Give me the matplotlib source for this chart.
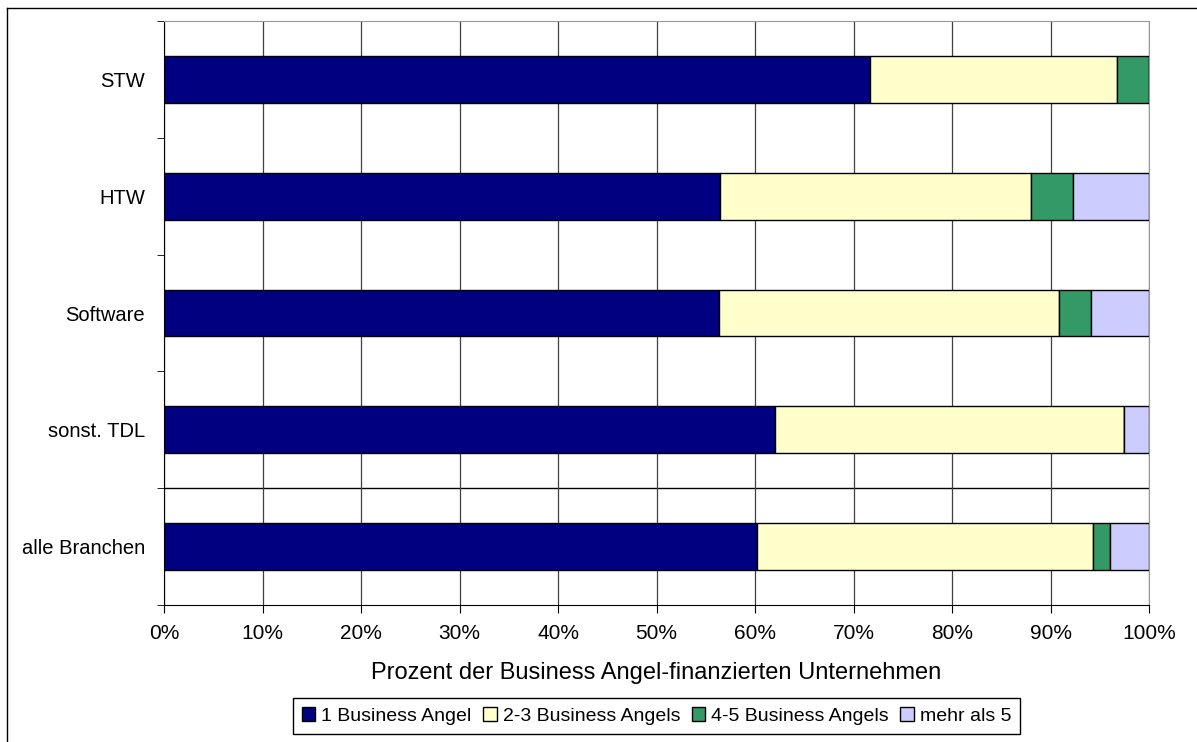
import numpy as np
import matplotlib
matplotlib.use("Agg")
import matplotlib.pyplot as plt
from matplotlib.lines import Line2D

plt.rcParams["font.family"] = ["Liberation Sans", "DejaVu Sans"]

# sectors, top to bottom
branchen = ["STW", "HTW", "Software", "sonst. TDL", "alle Branchen"]
serien = ["1 Business Angel", "2-3 Business Angels", "4-5 Business Angels", "mehr als 5"]
# shares in % per sector
ein_ba = [71.7, 56.4, 56.3, 62.0, 60.2]
zwei_drei = [25.0, 31.6, 34.6, 35.4, 34.1]
vier_fuenf = [3.3, 4.3, 3.2, 0.0, 1.7]
mehr_fuenf = [0.0, 7.7, 5.9, 2.6, 4.0]
farben = ["#000080", "#FFFFCC", "#339966", "#CCCCFF"]

fig = plt.figure(figsize=(11.97, 7.42), dpi=100)
ax = fig.add_axes([0.137, 0.1846, 0.823, 0.7871])

y = np.arange(len(branchen))[::-1]
left = np.zeros(len(branchen))
for name, vals, c in zip(serien, [ein_ba, zwei_drei, vier_fuenf, mehr_fuenf], farben):
    vals = np.array(vals)
    ax.barh(y, vals, left=left, height=0.4, color=c, edgecolor="black",
            linewidth=1.0, label=name, zorder=3)
    left += vals

ax.set_xlim(0, 100)
ax.set_ylim(-0.5, len(branchen) - 0.5)
ax.set_xticks(np.arange(0, 101, 10))
ax.set_xticklabels([f"{v}%" for v in range(0, 101, 10)], fontsize=15)
ax.set_yticks(y)
ax.set_yticklabels(branchen, fontsize=14.5)
ax.set_yticks(np.arange(-0.5, len(branchen), 1.0), minor=True)
ax.tick_params(axis="y", which="major", length=0, pad=13.5)
ax.tick_params(axis="y", which="minor", length=5, direction="out", color="black")
ax.tick_params(axis="x", length=6, direction="out", color="black", pad=8)

ax.grid(axis="x", color="#404040", linewidth=0.9, zorder=0)
ax.axhline(0.5, color="black", linewidth=1.0, zorder=1)

ax.spines["left"].set_color("black")
ax.spines["bottom"].set_color("black")
ax.spines["top"].set_color("#999999")
ax.spines["right"].set_color("#999999")

ax.set_xlabel("Prozent der Business Angel-finanzierten Unternehmen", fontsize=17, labelpad=13)

leg = ax.legend(loc="upper center", bbox_to_anchor=(0.5, -0.16), ncol=4, fontsize=14,
                frameon=True, fancybox=False, edgecolor="black", framealpha=1,
                handlelength=0.7, handleheight=0.7, handletextpad=0.3,
                columnspacing=0.6, borderpad=0.45, borderaxespad=0)
leg.get_frame().set_linewidth(1.0)

# outer chart frame (top and left edges)
fig.add_artist(Line2D([7 / 1197, 1.0], [1 - 8 / 742, 1 - 8 / 742], color="black", linewidth=1.0))
fig.add_artist(Line2D([7 / 1197, 7 / 1197], [0.0, 1 - 8 / 742], color="black", linewidth=1.0))

fig.savefig("out.png", dpi=100)
